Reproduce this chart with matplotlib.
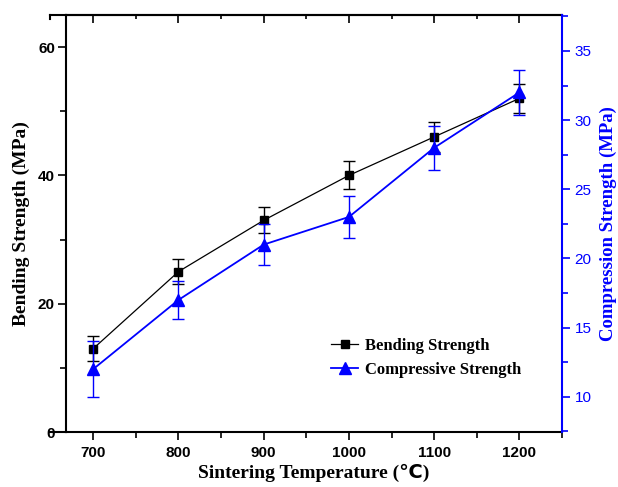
import matplotlib
matplotlib.use("Agg")
import matplotlib.pyplot as plt
from matplotlib.ticker import MultipleLocator
from matplotlib.lines import Line2D

temps = [700, 800, 900, 1000, 1100, 1200]
bending = [13, 25, 33, 40, 46, 52]
bending_err = [1.9, 2.0, 2.0, 2.2, 2.3, 2.3]
compressive = [12, 17, 21, 23, 28, 32]
compressive_err = [2.0, 1.4, 1.5, 1.5, 1.6, 1.6]

serif = ["Liberation Serif", "DejaVu Sans"]
sans = ["Liberation Sans", "DejaVu Sans"]
plt.rcParams["font.family"] = sans

fig = plt.figure(figsize=(6.18, 4.87), dpi=100)
ax = fig.add_axes([66 / 618, 55 / 487, 496 / 618, 417 / 487])
ax2 = ax.twinx()

ax.errorbar(temps, bending, yerr=bending_err, color="black", lw=0.9,
            marker="s", ms=6, capsize=4, elinewidth=1, capthick=1)
ax2.errorbar(temps, compressive, yerr=compressive_err, color="blue", lw=1.3,
             marker="^", ms=8, capsize=4, elinewidth=1, capthick=1)

ax.set_xlim(668, 1250)
ax.set_ylim(0, 65)
ax2.set_ylim(7.45, 37.6)

ax.xaxis.set_major_locator(MultipleLocator(100))
ax.xaxis.set_minor_locator(MultipleLocator(50))
ax.yaxis.set_major_locator(MultipleLocator(20))
ax.yaxis.set_minor_locator(MultipleLocator(10))
ax2.yaxis.set_major_locator(MultipleLocator(5))
ax2.yaxis.set_minor_locator(MultipleLocator(2.5))

ax.tick_params(axis="x", which="major", direction="out", length=6, width=1.2,
               labelsize=11, pad=4)
ax.tick_params(axis="x", which="minor", direction="out", length=4, width=1.2)
ax.tick_params(axis="y", which="major", direction="out", length=6, width=1.2,
               labelsize=11, pad=2)
ax.tick_params(axis="y", which="minor", direction="out", length=4, width=1.2)
ax2.tick_params(axis="y", which="major", direction="out", length=6, width=1.2,
                colors="blue", labelsize=11, pad=3)
ax2.tick_params(axis="y", which="minor", direction="out", length=4, width=1.2,
                colors="blue")

# top axis: inward ticks, no labels
top = ax.secondary_xaxis("top")
top.xaxis.set_major_locator(MultipleLocator(100))
top.xaxis.set_minor_locator(MultipleLocator(50))
top.tick_params(which="major", direction="in", length=6, width=1.2, labeltop=False)
top.tick_params(which="minor", direction="in", length=3, width=1.2)
top.spines["top"].set_linewidth(1.5)

for lbl in ax.get_xticklabels() + ax.get_yticklabels():
    lbl.set_fontweight("bold")

for s in ["left", "bottom", "top"]:
    ax.spines[s].set_linewidth(1.5)
ax2.spines["right"].set_color("blue")
ax2.spines["right"].set_linewidth(1.5)
ax.spines["right"].set_visible(False)
for s in ["left", "bottom", "top"]:
    ax2.spines[s].set_visible(False)

# Origin style axis line overhang on the left
ext = -16 / 496
ax.add_line(Line2D([ext, 0], [1, 1], transform=ax.transAxes, color="black",
                   lw=1.5, clip_on=False))
ax.add_line(Line2D([ext, ext], [1, 1 - 4 / 417], transform=ax.transAxes, color="black",
                   lw=1.5, clip_on=False))
ax.add_line(Line2D([ext, 0], [0, 0], transform=ax.transAxes, color="black",
                   lw=1.5, clip_on=False))

ax.set_xlabel("Sintering Temperature (℃)", family=serif, fontweight="bold",
              fontsize=14, labelpad=3)
ax.set_ylabel("Bending Strength (MPa)", family=serif, fontweight="bold",
              fontsize=14, labelpad=6)
ax2.set_ylabel("Compression Strength (MPa)", family=serif, fontweight="bold",
               fontsize=13.5, color="blue", labelpad=6)

handles = [Line2D([], [], color="black", lw=0.9, marker="s", ms=6),
           Line2D([], [], color="blue", lw=1.3, marker="^", ms=8)]
ax.legend(handles, ["Bending Strength", "Compressive Strength"],
          loc="upper left", bbox_to_anchor=(0.518, 0.245), frameon=False,
          prop={"family": serif, "weight": "bold", "size": 12},
          handlelength=1.6, handletextpad=0.4, labelspacing=0.45, borderpad=0)

fig.savefig("out.png", dpi=100)
